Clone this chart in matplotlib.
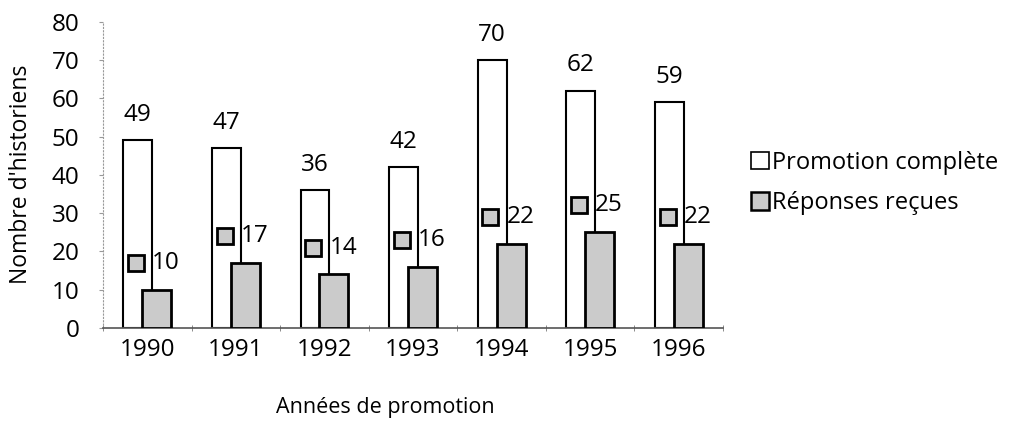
import matplotlib
matplotlib.use("Agg")
import matplotlib.pyplot as plt
from matplotlib.patches import Patch
import numpy as np

plt.rcParams['font.family'] = ['Open Sans', 'DejaVu Sans']

years = ["1990", "1991", "1992", "1993", "1994", "1995", "1996"]
promotion = [49, 47, 36, 42, 70, 62, 59]
reponses = [10, 17, 14, 16, 22, 25, 22]
yticks = [0, 10, 20, 30, 40, 50, 60, 70, 80]

fig = plt.figure(figsize=(10.11, 4.33), dpi=100)
ax = fig.add_axes([0.1019, 0.2425, 0.6133, 0.7076])

x = np.arange(len(years))
w = 0.327
off = 0.107
gray = '#cbcbcb'
fs = 17.5
ax.bar(x - off, promotion, w, facecolor='white', edgecolor='black', linewidth=1.5, zorder=2)
ax.bar(x + off, reponses, w, facecolor=gray, edgecolor='black', linewidth=2.0, zorder=3)

for i in range(len(years)):
    ax.text(x[i] - off, promotion[i] + 3.5, str(promotion[i]), ha='center', va='bottom', fontsize=fs)
    yl = reponses[i] + 7.0
    ax.plot(x[i] - off - 0.02, yl, marker='s', markersize=11.5, markerfacecolor=gray,
            markeredgecolor='black', markeredgewidth=2.0, zorder=4, clip_on=False)
    ax.text(x[i] + 0.055, yl, str(reponses[i]), ha='left', va='center', fontsize=fs)

ax.set_xlim(-0.5, len(years) - 0.5)
ax.set_ylim(0, 80)
ax.set_yticks(yticks)
ax.set_yticklabels([str(v) for v in yticks], fontsize=fs)
ax.set_xticks(x)
ax.set_xticklabels(years, fontsize=fs)
ax.set_xticks(np.arange(len(years) + 1) - 0.5, minor=True)
ax.tick_params(axis='x', which='major', length=0, pad=7)
ax.tick_params(axis='x', which='minor', length=5, direction='inout', color='#777777')
ax.tick_params(axis='y', length=3, color='#999999', pad=14)
for s in ['top', 'right']:
    ax.spines[s].set_visible(False)
ax.spines['left'].set_linestyle((0, (1, 2)))
ax.spines['left'].set_color('#999999')
ax.spines['bottom'].set_color('#555555')
ax.spines['bottom'].set_linewidth(1.2)

ax.set_ylabel("Nombre d'historiens", fontsize=16.5)
ax.yaxis.set_label_coords(-0.113, 0.5)
ax.set_xlabel("Années de promotion", fontsize=15.5)
ax.xaxis.set_label_coords(0.455, -0.225)

handles = [Patch(facecolor='white', edgecolor='black', linewidth=1.2),
           Patch(facecolor=gray, edgecolor='black', linewidth=1.8)]
fig.legend(handles, ["Promotion complète", "Réponses reçues"], loc='upper left',
           bbox_to_anchor=(0.743, 0.652), frameon=False, fontsize=17,
           handlelength=0.75, handleheight=0.75, handletextpad=0.15, labelspacing=0.7,
           borderpad=0, borderaxespad=0)

fig.savefig("out.png", dpi=100)
